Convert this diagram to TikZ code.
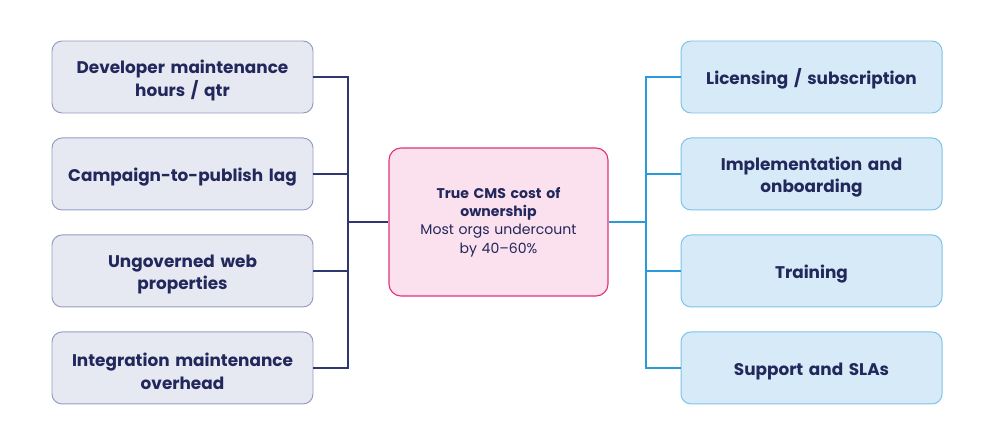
\documentclass[tikz,border=0pt]{standalone}
\usepackage{fontspec}
\setmainfont{Poppins}
\usetikzlibrary{positioning}
\definecolor{NavyText}{RGB}{34,40,92}
\definecolor{NavyLine}{RGB}{46,56,110}
\definecolor{LeftFill}{RGB}{230,233,242}
\definecolor{LeftDraw}{RGB}{150,156,195}
\definecolor{SkyFill}{RGB}{214,235,247}
\definecolor{SkyDraw}{RGB}{126,195,232}
\definecolor{SkyLine}{RGB}{42,155,216}
\definecolor{PinkFill}{RGB}{251,224,238}
\definecolor{PinkDraw}{RGB}{224,51,122}
\tikzset{
  costbox/.style={rounded corners=2.5mm,line width=0.7pt,
    minimum width=6.525cm,minimum height=1.8cm,text width=6.2cm,
    align=center,text=NavyText,font=\fontsize{12}{16}\selectfont\bfseries,
    text height=0.5cm},
  hiddenbox/.style={costbox,draw=LeftDraw,fill=LeftFill},
  directbox/.style={costbox,draw=SkyDraw,fill=SkyFill},
  corebox/.style={draw=PinkDraw,fill=PinkFill,rounded corners=3mm,line width=0.8pt,
    minimum width=5.475cm,minimum height=3.7cm,text width=5cm,align=center,
    text=NavyText,font=\fontsize{10}{13}\selectfont},
  hiddenline/.style={draw=NavyLine,line width=1.2pt},
  directline/.style={draw=SkyLine,line width=1.2pt},
}

\begin{document}
\begin{tikzpicture}[node distance=0.6cm]
  \useasboundingbox (0,0) rectangle (24.825,-10.8);
  \node[corebox] (core) at (12.4625,-5.55)
    {{\bfseries True CMS cost of\\ ownership}\\Most orgs undercount\\ by 40--60\%};
  % hidden costs (left)
  \node[hiddenbox] (devhours) at (4.5625,-1.925) {Developer maintenance\\ hours / qtr};
  \node[hiddenbox,below=of devhours] (publag) {Campaign-to-publish lag};
  \node[hiddenbox,below=of publag] (webprops) {Ungoverned web\\ properties};
  \node[hiddenbox,below=of webprops] (integ) {Integration maintenance\\ overhead};
  % direct costs (right)
  \node[directbox] (licence) at (20.2875,-1.925) {Licensing / subscription};
  \node[directbox,below=of licence] (implement) {Implementation and\\ onboarding};
  \node[directbox,below=of implement] (training) {Training};
  \node[directbox,below=of training] (support) {Support and SLAs};
  \coordinate (ljoin) at (8.7,-5.55);
  \coordinate (rjoin) at (16.15,-5.55);
  \draw[hiddenline] (devhours.east) -| (ljoin);
  \draw[hiddenline] (integ.east) -| (ljoin);
  \draw[hiddenline] (publag.east) -| (ljoin);
  \draw[hiddenline] (webprops.east) -| (ljoin);
  \draw[hiddenline] (ljoin) -- (core.west);
  \draw[directline] (licence.west) -| (rjoin);
  \draw[directline] (support.west) -| (rjoin);
  \draw[directline] (implement.west) -| (rjoin);
  \draw[directline] (training.west) -| (rjoin);
  \draw[directline] (core.east) -- (rjoin);
\end{tikzpicture}
\end{document}
